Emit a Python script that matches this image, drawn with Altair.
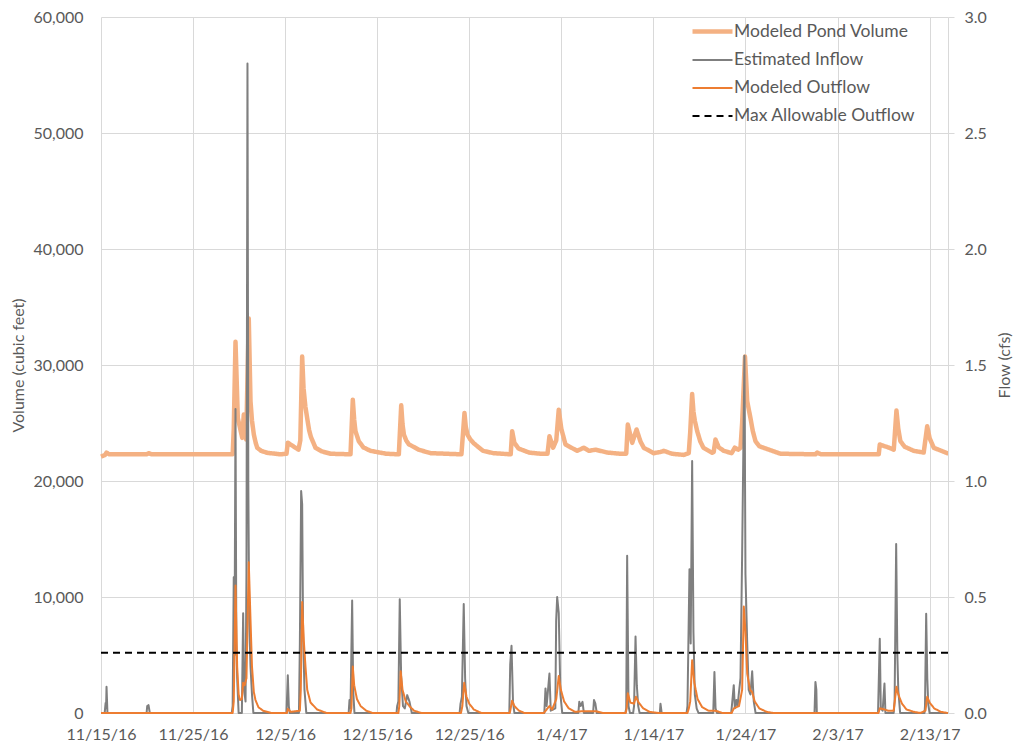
import altair as alt
import pandas as pd

START = pd.Timestamp("2016-11-15")

series_names = ["Modeled Pond Volume", "Estimated Inflow", "Modeled Outflow", "Max Allowable Outflow"]
series_colors = ["#F4B183", "#7F7F7F", "#ED7D31", "#000000"]

# days after 11/15/16 -> modeled pond volume (cubic feet)
volume_days = [0.0, 0.45, 0.6, 0.9, 5.0, 5.16, 5.5, 14.3, 14.42, 14.61, 14.86, 15.34, 15.51, 15.77, 16.05,
               16.24, 16.4, 16.60, 16.8, 16.97, 17.4, 18.05, 19.5, 20.15, 20.29, 21.45, 21.65, 21.85, 22.0,
               22.2, 22.40, 22.6, 22.8, 23.30, 24.0, 24.93, 27.10, 27.35, 27.5, 27.64, 28.00, 28.5, 29.27, 31.0,
               32.35, 32.61, 32.75, 32.9, 33.15, 33.43, 34.5, 35.79,
               39.15, 39.48, 39.62, 39.8, 40.1, 40.49, 41.5, 42.63, 44.5, 44.66, 44.9, 45.35, 46.5, 47.74,
               48.5, 48.71, 49.11, 49.45, 49.72, 50.0, 50.45, 51.72, 52.44, 53.0, 53.71, 55.0, 56.42, 57.05,
               57.22, 57.70, 58.17, 58.6, 58.96, 60.04, 60.77, 61.13, 62.0, 63.30, 63.84, 64.0, 64.21, 64.35,
               64.5, 64.76, 65.1, 65.44, 66.38, 66.55, 66.74, 67.1, 67.65, 68.5, 68.84, 69.2, 69.46, 69.64,
               69.95, 70.19, 70.54, 70.8, 71.09, 71.5, 71.99, 73.80, 77.6, 77.79, 78.2, 84.48, 84.59, 85.1,
               85.5, 86.11, 86.40, 86.6, 86.83, 87.3, 88.28, 89.36, 89.74, 90.0, 90.46, 91.91, 92.0]
volume_cf = [22100, 22250, 22450, 22300, 22300, 22400, 22300, 22300, 24500, 32000, 25430, 23720, 25730, 23580, 34000,
             26870, 25200, 24010, 23300, 22860, 22600, 22430, 22300, 22350, 23300, 22700, 23500, 30730, 28000,
             26400, 25400, 24400, 23800, 22860, 22550, 22350, 22300, 27010, 25300, 24290, 23430, 22900, 22600, 22350,
             22300, 26520, 24900, 24000, 23500, 23170, 22700, 22400,
             22300, 25860, 24700, 24000, 23600, 23250, 22600, 22400, 22300, 24290, 23300, 22800, 22450, 22350,
             22350, 23860, 22870, 23500, 26150, 24500, 23150, 22600, 22870, 22600, 22700, 22450, 22350, 22350,
             24870, 23290, 24440, 23400, 22860, 22400, 22500, 22600, 22350, 22250, 22400, 24200, 27500, 26000,
             25200, 24290, 23400, 22860, 22430, 22500, 23580, 22900, 22600, 22400, 22870, 22700, 22860, 25000,
             30730, 26870, 25440, 24300, 23430, 23000, 22860, 22350, 22300, 22450, 22300, 22300, 23150, 23000,
             22900, 22700, 26070, 24500, 23430, 22950, 22600, 22450, 24720, 23700, 22860, 22400, 22400]

# days after 11/15/16 -> estimated inflow (cfs)
inflow_days = [0.0, 0.4, 0.5, 0.55, 0.6, 0.7, 4.95, 5.02, 5.16, 5.3,
               14.2, 14.3, 14.42, 14.5, 14.61, 14.7, 14.79, 14.95, 15.3, 15.44, 15.55, 15.7, 15.8, 15.91, 16.0,
               16.1, 16.24, 16.4, 16.55,
               20.15, 20.29, 20.4, 20.5, 21.5, 21.6, 21.74, 21.85, 21.95, 22.1, 22.3,
               26.9, 26.99, 27.1, 27.28, 27.4, 27.53,
               32.1, 32.17, 32.3, 32.45, 32.6, 32.8, 33.0, 33.26, 33.5, 33.76,
               38.95, 39.05, 39.2, 39.40, 39.55, 39.7, 39.9,
               44.35, 44.45, 44.59, 44.75, 44.9,
               48.15, 48.28, 48.4, 48.6, 48.71, 48.85, 49.35, 49.44, 49.55, 49.72, 49.9, 50.1,
               51.85, 51.95, 52.1, 52.3, 52.45, 53.45, 53.55, 53.7, 53.85,
               56.95, 57.05, 57.15, 57.3, 57.45, 57.8, 57.9, 58.06, 58.2, 58.35, 58.5, 60.7, 60.77, 60.9,
               63.6, 63.7, 63.92, 64.05, 64.21, 64.35, 64.5, 64.7, 64.9,
               66.5, 66.63, 66.75, 66.9,
               68.45, 68.55, 68.73, 68.85, 69.02, 69.15, 69.27, 69.46, 69.64, 69.89, 70.0, 70.19, 70.35, 70.54,
               70.73, 70.9, 71.1,
               77.5, 77.6, 77.7, 77.75,
               84.4, 84.59, 84.7, 84.9, 85.10, 85.2, 86.1, 86.2, 86.37, 86.5, 86.6, 86.8,
               89.45, 89.5, 89.63, 89.75, 89.85, 90.0, 92.0]
inflow_cfs = [0, 0, 0.043, 0.02, 0.113, 0, 0, 0.03, 0.034, 0,
              0, 0.03, 0.585, 0.25, 1.31, 0.3, 0.15, 0, 0, 0.43, 0.1, 0.05, 0.6, 2.8, 1.0,
              0.4, 0.20, 0.08, 0,
              0, 0.163, 0.03, 0, 0, 0.3, 0.957, 0.9, 0.35, 0.1, 0,
              0, 0.056, 0.02, 0.485, 0.09, 0,
              0, 0.03, 0.05, 0.49, 0.16, 0.03, 0.02, 0.077, 0.05, 0,
              0, 0.04, 0.07, 0.47, 0.15, 0.03, 0,
              0, 0.21, 0.29, 0.05, 0,
              0, 0.106, 0.03, 0.12, 0.17, 0.01, 0.02, 0.4, 0.5, 0.43, 0.08, 0,
              0, 0.048, 0.03, 0.048, 0, 0, 0.056, 0.04, 0,
              0, 0.02, 0.678, 0.03, 0, 0, 0.03, 0.33, 0.12, 0.03, 0, 0, 0.04, 0,
              0, 0.03, 0.62, 0.3, 1.086, 0.35, 0.08, 0.02, 0,
              0, 0.177, 0.02, 0,
              0, 0.04, 0.12, 0.02, 0.056, 0.03, 0.08, 0.15, 0.685, 1.54, 0.6, 0.30, 0.1, 0.08,
              0.18, 0.05, 0,
              0, 0.134, 0.1, 0,
              0, 0.32, 0.02, 0.01, 0.127, 0, 0, 0.05, 0.728, 0.25, 0.1, 0,
              0, 0.03, 0.428, 0.15, 0.04, 0, 0]

# days after 11/15/16 -> modeled outflow (cfs)
outflow_days = [0.0, 14.3, 14.42, 14.61, 14.79, 14.95, 15.1, 15.3, 15.44, 15.6, 15.8, 16.05, 16.24, 16.4, 16.6,
                16.78, 17.1, 17.6, 18.5,
                20.2, 20.29, 20.6, 21.6, 21.7, 21.85, 22.03, 22.21, 22.40, 22.76, 23.48, 24.5,
                27.1, 27.2, 27.35, 27.5, 27.8, 28.2, 28.8, 29.5,
                32.3, 32.4, 32.55, 32.75, 33.1, 33.5, 34.0, 34.8,
                39.1, 39.25, 39.45, 39.7, 40.0, 40.5, 41.3,
                44.4, 44.5, 44.65, 44.9, 45.4, 46.0,
                48.1, 48.3, 48.71, 49.0, 49.45, 49.72, 49.95, 50.3, 50.8, 51.5, 52.4, 53.7, 54.5,
                57.0, 57.1, 57.22, 57.5, 57.9, 58.1, 58.4, 58.9, 59.6, 60.5,
                63.7, 63.85, 64.0, 64.21, 64.45, 64.8, 65.3, 66.0, 66.74, 67.5,
                68.5, 68.73, 69.3, 69.64, 69.82, 70.0, 70.19, 70.5, 70.73, 71.0, 71.5, 72.3, 73.0,
                84.45, 84.6, 85.1, 85.5, 86.1, 86.4, 86.6, 87.0, 87.5, 88.3, 89.0,
                89.55, 89.74, 90.0, 90.5, 91.2, 92.0]
outflow_cfs = [0, 0, 0.05, 0.55, 0.20, 0.08, 0.056, 0.06, 0.13, 0.12, 0.15, 0.65, 0.40, 0.2, 0.09,
               0.056, 0.025, 0.01, 0,
               0, 0.018, 0.005, 0.01, 0.1, 0.478, 0.31, 0.2, 0.1, 0.045, 0.015, 0,
               0, 0.02, 0.20, 0.12, 0.06, 0.03, 0.01, 0,
               0, 0.03, 0.18, 0.1, 0.05, 0.03, 0.01, 0,
               0, 0.03, 0.13, 0.07, 0.04, 0.015, 0,
               0, 0.02, 0.053, 0.03, 0.01, 0,
               0, 0.01, 0.03, 0.015, 0.06, 0.159, 0.1, 0.05, 0.02, 0.005, 0.008, 0.008, 0,
               0, 0.02, 0.085, 0.045, 0.04, 0.07, 0.045, 0.02, 0.005, 0,
               0, 0.02, 0.05, 0.227, 0.13, 0.06, 0.025, 0.01, 0.01, 0,
               0, 0.02, 0.03, 0.1, 0.459, 0.35, 0.17, 0.1, 0.09, 0.05, 0.02, 0.005, 0,
               0, 0.02, 0.015, 0.01, 0.01, 0.113, 0.08, 0.04, 0.015, 0.005, 0,
               0.01, 0.07, 0.045, 0.02, 0.005, 0]

max_allowable_days = [0.0, 92.0]
max_allowable_cfs = [0.26, 0.26]

tick_dates = ["2016-11-15", "2016-11-25", "2016-12-05", "2016-12-15", "2016-12-25",
              "2017-01-04", "2017-01-14", "2017-01-24", "2017-02-03", "2017-02-13"]
x_domain = ["2016-11-15", "2017-02-15"]
volume_ticks = [0, 10000, 20000, 30000, 40000, 50000, 60000]
flow_ticks = [0, 0.5, 1.0, 1.5, 2.0, 2.5, 3.0]


def frame(days, vals, name, col):
    ts = [(START + pd.Timedelta(days=d)).strftime("%Y-%m-%dT%H:%M:%S") for d in days]
    return pd.DataFrame({"date": ts, col: vals, "series": name})


def dt(s):
    t = pd.Timestamp(s)
    return alt.DateTime(year=t.year, month=t.month, date=t.day)


vol_df = frame(volume_days, volume_cf, series_names[0], "value")
in_df = frame(inflow_days, inflow_cfs, series_names[1], "flow")
out_df = frame(outflow_days, outflow_cfs, series_names[2], "flow")
max_df = frame(max_allowable_days, max_allowable_cfs, series_names[3], "flow")

FONT = "Lato"
legend = alt.Legend(title=None, orient="none", legendX=601, legendY=4, symbolType="M-2.5,0H2.5",
                    symbolSize=256, labelFont=FONT, labelFontSize=17.5, labelColor="#595959",
                    labelOffset=11, rowPadding=10, padding=0, labelLimit=400)

color = alt.Color("series:N", scale=alt.Scale(domain=series_names, range=series_colors), legend=legend)
dash = alt.StrokeDash("series:N", scale=alt.Scale(domain=series_names, range=[[1, 0], [1, 0], [1, 0], [7, 5]]),
                      legend=legend)
width = alt.StrokeWidth("series:N", scale=alt.Scale(type="ordinal", domain=series_names, range=[4.5, 2, 2, 2]),
                        legend=legend)

x_axis = alt.Axis(values=[dt(s) for s in tick_dates], format="%-m/%-d/%y", formatType="time", grid=True,
                  ticks=False, domain=True, labelPadding=13, labelFlush=False, labelOverlap=False)
x_enc = alt.X("date:T", title=None, axis=x_axis,
              scale=alt.Scale(domain=[dt(s) for s in x_domain], nice=False))

left_axis = alt.Axis(title="Volume (cubic feet)", values=volume_ticks, format=",.0f", grid=True, domain=False,
                     ticks=False, labelPadding=18, titlePadding=6)
right_axis = alt.Axis(title="Flow (cfs)", orient="right", values=flow_ticks, format=".1f", grid=False,
                      domain=True, ticks=True, tickSize=6, labelPadding=10, titlePadding=10,
                      titleAngle=270, titleBaseline="top")

vol = alt.Chart(vol_df).mark_line(strokeJoin="round").encode(
    x=x_enc,
    y=alt.Y("value:Q", scale=alt.Scale(domain=[0, 60000], nice=False), axis=left_axis),
    color=color, strokeDash=dash, strokeWidth=width,
)

flow_scale = alt.Scale(domain=[0, 3], nice=False)
flow_layers = [
    alt.Chart(df).mark_line(strokeJoin="round").encode(
        x=x_enc,
        y=alt.Y("flow:Q", scale=flow_scale, axis=right_axis),
        color=color, strokeDash=dash, strokeWidth=width,
    )
    for df in (in_df, out_df, max_df)
]

chart = alt.layer(vol, alt.layer(*flow_layers)).resolve_scale(y="independent").properties(
    width=847, height=696,
    autosize=alt.AutoSizeParams(type="none"),
    padding={"left": 93, "top": 9, "right": 65, "bottom": 30},
).configure_view(strokeWidth=0).configure_axis(
    labelFont=FONT, titleFont=FONT, labelColor="#595959", titleColor="#595959",
    labelFontSize=16, titleFontSize=16, titleFontWeight="normal",
    gridColor="#D9D9D9", domainColor="#D9D9D9", tickColor="#D9D9D9",
)

chart.save("out.html", embed_options={"renderer": "svg", "actions": False})
